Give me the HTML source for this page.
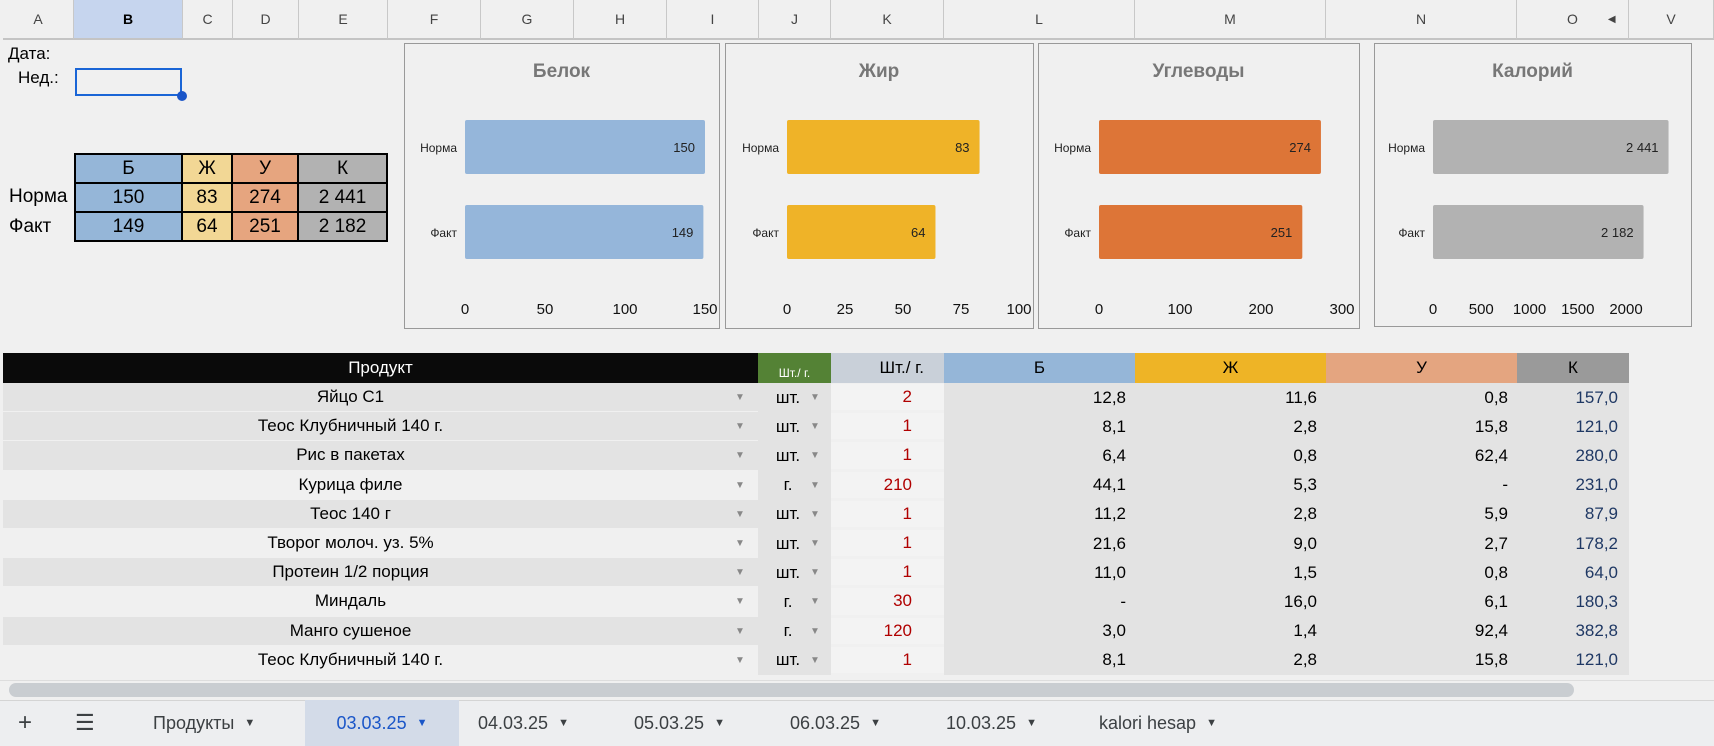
<!DOCTYPE html>
<html><head><meta charset="utf-8"><style>
*{margin:0;padding:0;box-sizing:border-box}
body{width:1714px;height:746px;background:#f0f0f0;position:relative;overflow:hidden;font-family:"Liberation Sans Narrow","Liberation Sans",sans-serif;color:#000}
.a{position:absolute}
.colh{position:absolute;top:0;height:40px;border-right:1px solid #c8c8c8;border-bottom:2px solid #c4c4c4;background:#f0f0f0;font-family:"Liberation Sans",sans-serif;font-size:14px;color:#444;display:flex;align-items:center;justify-content:center}
.mt{position:absolute;border:2px solid #000;font-size:19px;display:flex;align-items:center;justify-content:center}
.cell{position:absolute;display:flex;align-items:center;font-size:17px}
.tab{position:absolute;top:700px;height:46px;display:flex;align-items:center;font-family:"Liberation Sans",sans-serif;font-size:18px;color:#3c4043}
</style></head><body>
<div id="colheads"></div>
<div class="a" style="left:8px;top:44px;font-size:17px">Дата:</div>
<div class="a" style="left:18px;top:68px;font-size:17px">Нед.:</div>
<div class="a" style="left:75px;top:68px;width:107px;height:28px;border:2px solid #1a65d6"></div>
<div class="a" style="left:177px;top:91px;width:10px;height:10px;border-radius:50%;background:#1a55c8"></div>

<div>
<div class="mt" style="left:74px;top:153px;width:109px;height:31px;background:#95b6d8">Б</div>
<div class="mt" style="left:181px;top:153px;width:52px;height:31px;background:#f2d795">Ж</div>
<div class="mt" style="left:231px;top:153px;width:68px;height:31px;background:#e6a57f">У</div>
<div class="mt" style="left:297px;top:153px;width:91px;height:31px;background:#b2b2b2">К</div>
<div class="a" style="left:9px;top:186px;font-size:19px">Норма</div>
<div class="a" style="left:9px;top:216px;font-size:19px">Факт</div>
<div class="mt" style="left:74px;top:182px;width:109px;height:31px;background:#95b6d8">150</div>
<div class="mt" style="left:181px;top:182px;width:52px;height:31px;background:#f2d795">83</div>
<div class="mt" style="left:231px;top:182px;width:68px;height:31px;background:#e6a57f">274</div>
<div class="mt" style="left:297px;top:182px;width:91px;height:31px;background:#b2b2b2">2 441</div>
<div class="mt" style="left:74px;top:211px;width:109px;height:31px;background:#95b6d8">149</div>
<div class="mt" style="left:181px;top:211px;width:52px;height:31px;background:#f2d795">64</div>
<div class="mt" style="left:231px;top:211px;width:68px;height:31px;background:#e6a57f">251</div>
<div class="mt" style="left:297px;top:211px;width:91px;height:31px;background:#b2b2b2">2 182</div>
</div>

<svg id="charts" class="a" style="left:0;top:0" width="1714" height="340"></svg>

<div id="grid"></div>

<div class="a" style="left:0;top:680px;width:1714px;height:20px;background:#f0f0f0;border-top:1px solid #ddd"></div>
<div class="a" style="left:9px;top:683px;width:1565px;height:14px;border-radius:7px;background:#c9cdd1"></div>
<div class="a" style="left:0;top:700px;width:1714px;height:46px;background:#edeef0;border-top:1px solid #d4d4d4"></div>
<div class="tab" style="left:18px;font-size:24px">+</div>
<div class="tab" style="left:75px;font-size:22px">☰</div>
<div class="tab" style="left:153px">Продукты&nbsp;&nbsp;<span style="font-size:11px">▼</span></div>
<div class="tab" style="left:305px;width:154px;background:#d3dbe8;color:#1a56c8;justify-content:center">03.03.25&nbsp;&nbsp;<span style="font-size:11px">▼</span></div>
<div class="tab" style="left:478px">04.03.25&nbsp;&nbsp;<span style="font-size:11px">▼</span></div>
<div class="tab" style="left:634px">05.03.25&nbsp;&nbsp;<span style="font-size:11px">▼</span></div>
<div class="tab" style="left:790px">06.03.25&nbsp;&nbsp;<span style="font-size:11px">▼</span></div>
<div class="tab" style="left:946px">10.03.25&nbsp;&nbsp;<span style="font-size:11px">▼</span></div>
<div class="tab" style="left:1099px">kalori hesap&nbsp;&nbsp;<span style="font-size:11px">▼</span></div>

<script>
// column headers
const colLetters=["A","B","C","D","E","F","G","H","I","J","K","L","M","N","O","V"];
const colEdges=[3,74,183,233,299,388,481,574,667,759,831,944,1135,1326,1517,1629,1714];
const ch=document.getElementById('colheads');
colLetters.forEach((l,i)=>{const d=document.createElement('div');d.className='colh';


d.style.left=colEdges[i]+'px';d.style.width=(colEdges[i+1]-colEdges[i])+'px';
if(l==='B'){d.style.background='#c6d5ee';d.style.color='#000';d.style.fontWeight='bold';}
if(l==='O'){d.innerHTML='<span style="margin-left:20px">O</span><span style="margin-left:30px;font-size:10px">◀</span>';d.style.justifyContent='flex-start';d.style.paddingLeft='30px';}
else d.textContent=l;ch.appendChild(d);});

// charts data
const barCategories=["Норма","Факт"];
const proteinValues=[150,149];
const fatValues=[83,64];
const carbValues=[274,251];
const calorieValues=[2441,2182];
const proteinLabels=["150","149"];
const fatLabels=["83","64"];
const carbLabels=["274","251"];
const calorieLabels=["2 441","2 182"];
const proteinTicks=[0,50,100,150];
const fatTicks=[0,25,50,75,100];
const carbTicks=[0,100,200,300];
const calorieTicks=[0,500,1000,1500,2000];
const chartTitles=["Белок","Жир","Углеводы","Калорий"];

const svg=document.getElementById('charts');const NS='http://www.w3.org/2000/svg';
function mk(tag,attrs,name){const e=document.createElementNS(NS,tag);for(const k in attrs)e.setAttribute(k,attrs[k]);


svg.appendChild(e);return e;}
const charts=[
 {box:[404,43,315,285],x0:465,x1:705,max:150,vals:proteinValues,labs:proteinLabels,ticks:proteinTicks,color:'#95b6da',key:'protein'},
 {box:[725,43,308,285],x0:787,x1:1019,max:100,vals:fatValues,labs:fatLabels,ticks:fatTicks,color:'#efb328',key:'fat'},
 {box:[1038,43,321,285],x0:1099,x1:1342,max:300,vals:carbValues,labs:carbLabels,ticks:carbTicks,color:'#dd7537',key:'carbs'},
 {box:[1374,43,317,283],x0:1433,x1:1626,max:2000,vals:calorieValues,labs:calorieLabels,ticks:calorieTicks,color:'#b2b2b2',key:'calories'}];
const barY=[120,205],barH=54;
charts.forEach((c,ci)=>{
 const [bx,by,bw,bh]=c.box;
 mk('rect',{x:bx+0.5,y:by+0.5,width:bw,height:bh,fill:'#f0f0f0',stroke:'#999','stroke-width':1},c.key+'-chart-frame');
 const t=mk('text',{x:bx+bw/2,y:77,'text-anchor':'middle','font-size':19,'font-weight':'bold',fill:'#777','font-family':'Liberation Sans Narrow, Liberation Sans, sans-serif'},c.key+'-chart-title');t.textContent=chartTitles[ci];
 const sx=v=>c.x0+(v/c.max)*(c.x1-c.x0);
 c.vals.forEach((v,i)=>{
  mk('rect',{x:c.x0,y:barY[i],width:sx(v)-c.x0,height:barH,fill:c.color,rx:2},c.key+'-bar-'+(i?'fact':'norm'));
  const l=mk('text',{x:sx(v)-10,y:barY[i]+barH/2+5,'text-anchor':'end','font-size':13,fill:'#222','font-family':'Liberation Sans Narrow, Liberation Sans, sans-serif'},c.key+'-value-'+(i?'fact':'norm'));l.textContent=c.labs[i];
  const cl=mk('text',{x:c.x0-8,y:barY[i]+barH/2+5,'text-anchor':'end','font-size':12,fill:'#222','font-family':'Liberation Sans Narrow, Liberation Sans, sans-serif'},c.key+'-category-'+(i?'fact':'norm'));cl.textContent=barCategories[i];
 });
 c.ticks.forEach(tv=>{const tt=mk('text',{x:sx(tv),y:314,'text-anchor':'middle','font-size':15,fill:'#111','font-family':'Liberation Sans Narrow, Liberation Sans, sans-serif'},c.key+'-x-tick');tt.textContent=tv;});
});

// product table
const products=["Яйцо С1","Теос Клубничный 140 г.","Рис в пакетах","Курица филе","Теос 140 г","Творог молоч. уз. 5%","Протеин 1/2 порция","Миндаль","Манго сушеное","Теос Клубничный 140 г."];
const units=["шт.","шт.","шт.","г.","шт.","шт.","шт.","г.","г.","шт."];
const qty=["2","1","1","210","1","1","1","30","120","1"];
const bCol=["12,8","8,1","6,4","44,1","11,2","21,6","11,0","-","3,0","8,1"];
const zhCol=["11,6","2,8","0,8","5,3","2,8","9,0","1,5","16,0","1,4","2,8"];
const uCol=["0,8","15,8","62,4","-","5,9","2,7","0,8","6,1","92,4","15,8"];
const kCol=["157,0","121,0","280,0","231,0","87,9","178,2","64,0","180,3","382,8","121,0"];
const rowShade=[1,1,1,0,1,0,1,0,1,0];
const g=document.getElementById('grid');
function cell(x,y,w,h,txt,st,name){const d=document.createElement('div');d.className='cell';


Object.assign(d.style,{left:x+'px',top:y+'px',width:w+'px',height:h+'px'},st||{});d.textContent=txt;g.appendChild(d);return d;}
const HY=353,HH=30,RH=29.2;
cell(3,HY,755,HH,'Продукт',{background:'#0a0a0a',color:'#fff',justifyContent:'center',paddingLeft:'0'},'header-product');
cell(758,HY,73,HH,'Шт./ г.',{background:'#548235',color:'#fff',fontSize:'12px',justifyContent:'center',alignItems:'flex-end',paddingBottom:'3px'},'header-unit');
cell(831,HY,113,HH,'Шт./ г.',{background:'#c9d0d9',justifyContent:'flex-end',paddingRight:'20px'},'header-quantity');
cell(944,HY,191,HH,'Б',{background:'#95b6d8',justifyContent:'center'},'header-protein');
cell(1135,HY,191,HH,'Ж',{background:'#eeb426',justifyContent:'center'},'header-fat');
cell(1326,HY,191,HH,'У',{background:'#e4a580',justifyContent:'center'},'header-carbs');
cell(1517,HY,112,HH,'К',{background:'#9a9a9a',justifyContent:'center'},'header-calories');
cell(944,HY+HH,685,RH*10,'',{background:'#e3e3e3'},'numeric-area');
cell(758,HY+HH,73,RH*10,'',{background:'#e3e3e3'},'unit-area');
products.forEach((p,i)=>{const y=HY+HH+i*RH;
 cell(3,y,755,RH-1,p,{background:rowShade[i]?'#e3e3e3':'#f0f0f0',justifyContent:'center',paddingRight:'60px'},'product-name-'+i);
 cell(735,y,14,RH,'▼',{fontSize:'10px',color:'#888'},'product-dropdown-'+i);
 cell(758,y,60,RH,units[i],{justifyContent:'center'},'unit-'+i);
 cell(810,y,14,RH,'▼',{fontSize:'10px',color:'#888'},'unit-dropdown-'+i);
 cell(831,y+1,113,RH-3,qty[i],{background:'#f3f3f3',color:'#b00000',justifyContent:'flex-end',paddingRight:'32px'},'quantity-'+i);
 cell(944,y,182,RH,bCol[i],{justifyContent:'flex-end'},'protein-'+i);
 cell(1135,y,182,RH,zhCol[i],{justifyContent:'flex-end'},'fat-'+i);
 cell(1326,y,182,RH,uCol[i],{justifyContent:'flex-end'},'carbs-'+i);
 cell(1517,y,101,RH,kCol[i],{justifyContent:'flex-end',color:'#1f3864'},'calories-'+i);
});
</script>
</body></html>
